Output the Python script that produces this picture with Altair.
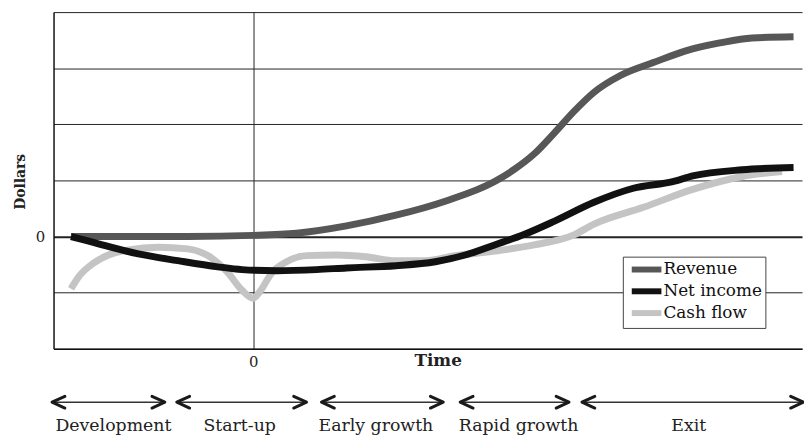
import altair as alt
import pandas as pd

# ---- data (time units: 0 = start-up; dollars: arbitrary units) ----
rev_t = [-3.65, -2.50, -1.31, 0.0, 0.87, 1.87, 2.86, 3.85, 4.84, 5.24, 5.63, 6.03, 6.43, 6.83, 7.36, 8.02, 8.67, 9.35, 10.0, 10.83]
rev_v = [0.0, 0.0, 0.0, 0.02, 0.06, 0.19, 0.38, 0.63, 0.98, 1.20, 1.47, 1.84, 2.23, 2.57, 2.87, 3.10, 3.31, 3.45, 3.54, 3.56]

ni_t = [-3.65, -3.39, -3.10, -2.30, -1.51, -0.71, -0.22, 0.48, 1.27, 1.87, 2.86, 3.65, 4.25, 4.84, 5.44, 6.03, 6.83, 7.62, 8.41, 8.81, 9.80, 10.83]
ni_v = [0.0, -0.06, -0.13, -0.31, -0.43, -0.54, -0.59, -0.61, -0.59, -0.56, -0.52, -0.45, -0.33, -0.15, 0.04, 0.27, 0.61, 0.86, 0.98, 1.08, 1.19, 1.23]

cf_t = [-3.65, -3.49, -3.19, -2.90, -2.50, -1.90, -1.31, -0.91, -0.52, -0.22, 0.0, 0.12, 0.38, 0.67, 1.07, 1.67, 2.26, 2.86, 3.45, 4.05, 4.84, 5.63, 6.43, 6.83, 7.82, 8.81, 9.80, 10.60]
cf_v = [-0.93, -0.71, -0.47, -0.33, -0.24, -0.19, -0.22, -0.34, -0.63, -0.96, -1.10, -1.00, -0.64, -0.45, -0.34, -0.33, -0.36, -0.43, -0.43, -0.34, -0.26, -0.15, 0.03, 0.22, 0.52, 0.84, 1.07, 1.16]

series_names = ["Revenue", "Net income", "Cash flow"]
series_colors = ["#575757", "#111111", "#c4c4c4"]

stage_names = ["Development", "Start-up", "Early growth", "Rapid growth", "Exit"]
stage_start = [-4.03, -1.53, 1.37, 4.15, 6.59]
stage_end = [-1.77, 1.07, 3.81, 6.33, 11.03]
stage_label_t = [-2.80, -0.27, 2.46, 5.32, 8.73]

y_ticks = [-2, -1, 0, 1, 2, 3, 4]
x_ticks = [0]

# ---- tables ----
frames = []
for name, ts, vs in [("Cash flow", cf_t, cf_v), ("Revenue", rev_t, rev_v), ("Net income", ni_t, ni_v)]:
    frames.append(pd.DataFrame({"t": ts, "v": vs, "series": name, "order": list(range(len(ts)))}))
lines_df = pd.concat(frames, ignore_index=True)

stages_df = pd.DataFrame({"name": stage_names, "start": stage_start, "end": stage_end, "lt": stage_label_t})

SERIF = "DejaVu Serif"

x_scale = alt.Scale(domain=[-4, 11], nice=False, zero=False)
y_scale = alt.Scale(domain=[-2, 4], nice=False, zero=False)

x_axis = alt.Axis(values=x_ticks, title="Time", grid=True, ticks=False,
                  gridColor="#222222", gridWidth=1, gridOpacity=1,
                  domainColor="#111111", domainWidth=1.5,
                  labelFont=SERIF, labelFontSize=15, labelColor="#222222", labelPadding=6,
                  titleFont=SERIF, titleFontSize=17, titleFontWeight="bold", titleColor="#222222",
                  titleX=388, titleY=12, titleBaseline="middle", titleAlign="center")

def X(field):
    return alt.X(field, type="quantitative", scale=x_scale, axis=x_axis)

y_axis = alt.Axis(values=y_ticks, title="Dollars", grid=True, ticks=False,
                  gridColor="#222222", gridOpacity=1,
                  gridWidth={"condition": {"test": "datum.value === 0", "value": 2}, "value": 1},
                  domainColor="#111111", domainWidth=1.5,
                  labelExpr="datum.value === 0 ? '0' : ''",
                  labelFont=SERIF, labelFontSize=15, labelColor="#222222", labelPadding=9,
                  titleFont=SERIF, titleFontSize=14, titleFontWeight="bold", titleColor="#222222",
                  titleX=-33, titleY=171, titleAngle=270, titleBaseline="middle", titleAlign="center")

lines = alt.Chart(lines_df).mark_line(strokeWidth=7, interpolate="monotone", strokeCap="butt").encode(
    x=X("t"),
    y=alt.Y("v:Q", scale=y_scale, axis=y_axis),
    color=alt.Color("series:N",
                    scale=alt.Scale(domain=series_names, range=series_colors),
                    legend=alt.Legend(title=None, orient="none", legendX=575, legendY=247,
                                      symbolType="M -2.14 0 L 2.14 0", symbolSize=196, symbolStrokeWidth=6,
                                      symbolOffset=11,
                                      labelFont=SERIF, labelFontSize=17, labelColor="#111111",
                                      fillColor="white", strokeColor="#444444", padding=3,
                                      labelOffset=7, rowPadding=-3)),
    detail="series:N",
    order="order:Q",
)

arrow_y = 394
shafts = alt.Chart(stages_df).mark_rule(color="#333333", strokeWidth=1.5).encode(
    x=X("start"), x2=alt.X2("end"), y=alt.value(arrow_y)
)
left_heads = alt.Chart(stages_df).mark_point(
    shape="M 1.85 -0.85 L 0 0 L 1.85 0.85", size=196, filled=False,
    stroke="#1a1a1a", strokeWidth=3, strokeJoin="round", strokeCap="round", opacity=1
).encode(x=X("start"), y=alt.value(arrow_y))
right_heads = alt.Chart(stages_df).mark_point(
    shape="M -1.85 -0.85 L 0 0 L -1.85 0.85", size=196, filled=False,
    stroke="#1a1a1a", strokeWidth=3, strokeJoin="round", strokeCap="round", opacity=1
).encode(x=X("end"), y=alt.value(arrow_y))
stage_text = alt.Chart(stages_df).mark_text(
    font=SERIF, fontSize=17.5, color="#222222", baseline="alphabetic", align="center"
).encode(x=X("lt"), y=alt.value(423), text="name:N")

chart = alt.layer(lines, shafts, left_heads, right_heads, stage_text).properties(
    width=756, height=340,
    padding={"left": 46, "top": 2, "right": 2, "bottom": 86},
    autosize=alt.AutoSizeParams(type="none"),
    background="white",
).configure_view(strokeWidth=0)

chart.save("out.html", embed_options={"renderer": "svg", "actions": False})
